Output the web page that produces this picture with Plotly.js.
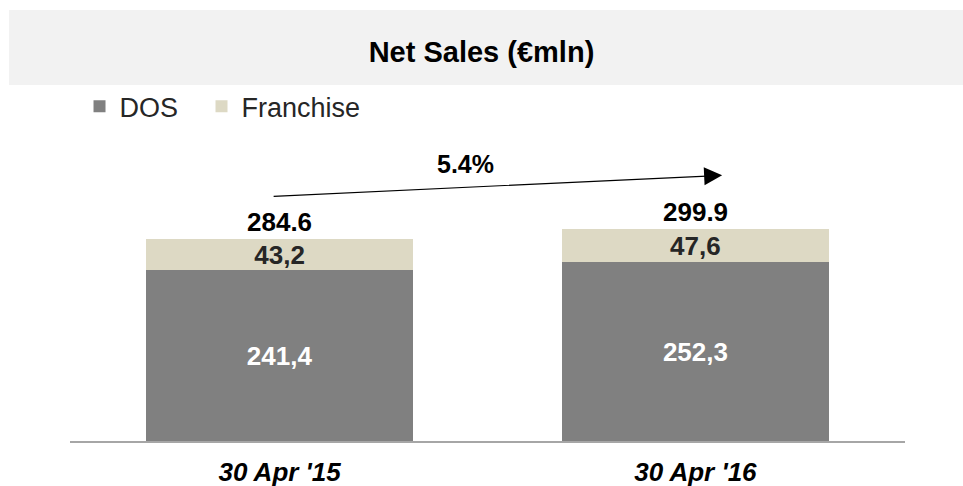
<!DOCTYPE html>
<html>
<head>
<meta charset="utf-8">
<script src="https://cdn.plot.ly/plotly-3.0.1.min.js"></script>
<style>html,body{margin:0;padding:0;background:#fff;}#chart{width:963px;height:486px;}</style>
</head>
<body>
<div id="chart"></div>
<script>
// ---- data ----
const categories = ["30 Apr '15", "30 Apr '16"];
const dosValues = [241.4, 252.3];
const franchiseValues = [43.2, 47.6];
const totalValues = [284.6, 299.9];
const seriesNames = ["DOS", "Franchise"];
const chartTitle = "Net Sales (€mln)";

const FONT = "Liberation Sans, Arial, Helvetica, sans-serif";
const commaFmt = v => v.toFixed(1).replace('.', ',');
const growth = ((totalValues[1] / totalValues[0]) - 1) * 100;

const traces = [
  {
    type: 'bar', name: seriesNames[0], x: categories, y: dosValues,
    marker: {color: '#808080'}, width: 0.642, legend: 'legend',
    text: dosValues.map(commaFmt), textposition: 'inside', insidetextanchor: 'middle',
    constraintext: 'none',
    textfont: {family: FONT, size: 26, color: '#ffffff', weight: 'bold'},
    hoverinfo: 'none'
  },
  {
    type: 'bar', name: seriesNames[1], x: categories, y: franchiseValues,
    marker: {color: '#ddd9c4'}, width: 0.642, legend: 'legend2',
    text: franchiseValues.map(commaFmt), textposition: 'inside', insidetextanchor: 'middle',
    constraintext: 'none',
    textfont: {family: FONT, size: 26, color: '#262626', weight: 'bold'},
    hoverinfo: 'none'
  }
];

const annotations = categories.map((c, i) => ({
  x: c, y: totalValues[i], xref: 'x', yref: 'y',
  text: totalValues[i].toFixed(1), showarrow: false,
  yanchor: 'bottom', yshift: 0,
  font: {family: FONT, size: 26, color: '#000', weight: 'bold'}
}));

// growth arrow
annotations.push({
  xref: 'paper', yref: 'paper', x: 0.781, y: 0.779,
  ax: -450, ay: 21, showarrow: true, text: '',
  arrowhead: 2, arrowsize: 3, arrowwidth: 1.2, arrowcolor: '#000', standoff: 0
});
annotations.push({
  xref: 'paper', yref: 'paper', x: 0.474, y: 0.812,
  text: growth.toFixed(1) + '%', showarrow: false,
  xanchor: 'center', yanchor: 'middle',
  font: {family: FONT, size: 25, color: '#000', weight: 'bold'}
});

const legendBase = {
  orientation: 'h', y: 0.98, xanchor: 'left', yanchor: 'middle',
  font: {family: FONT, size: 27, color: '#262626'},
  itemwidth: 30, bgcolor: 'rgba(0,0,0,0)'
};

const layout = {
  width: 963, height: 486,
  margin: {l: 70, r: 58, t: 100, b: 45, pad: 0},
  paper_bgcolor: '#ffffff', plot_bgcolor: '#ffffff',
  barmode: 'stack',
  title: {
    text: '<b>' + chartTitle + '</b>',
    x: 0.5, xref: 'container', y: 1 - 52 / 486, yref: 'container', yanchor: 'middle',
    font: {family: FONT, size: 29, color: '#000'}
  },
  showlegend: true,
  legend: Object.assign({}, legendBase, {x: 0.0114}),
  legend2: Object.assign({}, legendBase, {x: 0.1575}),
  xaxis: {
    type: 'category', range: [-0.504, 1.504],
    showline: true, linecolor: '#a6a6a6', linewidth: 1.5,
    showgrid: false, zeroline: false, ticks: '',
    ticklabelstandoff: 7,
    tickfont: {family: FONT, size: 26, color: '#000', weight: 'bold', style: 'italic'},
    fixedrange: true
  },
  yaxis: {visible: false, range: [0, 481.6], fixedrange: true},
  shapes: [{
    type: 'rect', xref: 'paper', yref: 'paper',
    x0: -0.073, x1: 1.08, y0: 1.044, y1: 1.264,
    fillcolor: '#f2f2f2', line: {width: 0}, layer: 'below'
  }],
  annotations: annotations
};

Plotly.newPlot('chart', traces, layout, {displayModeBar: false, staticPlot: true});
</script>
</body>
</html>
